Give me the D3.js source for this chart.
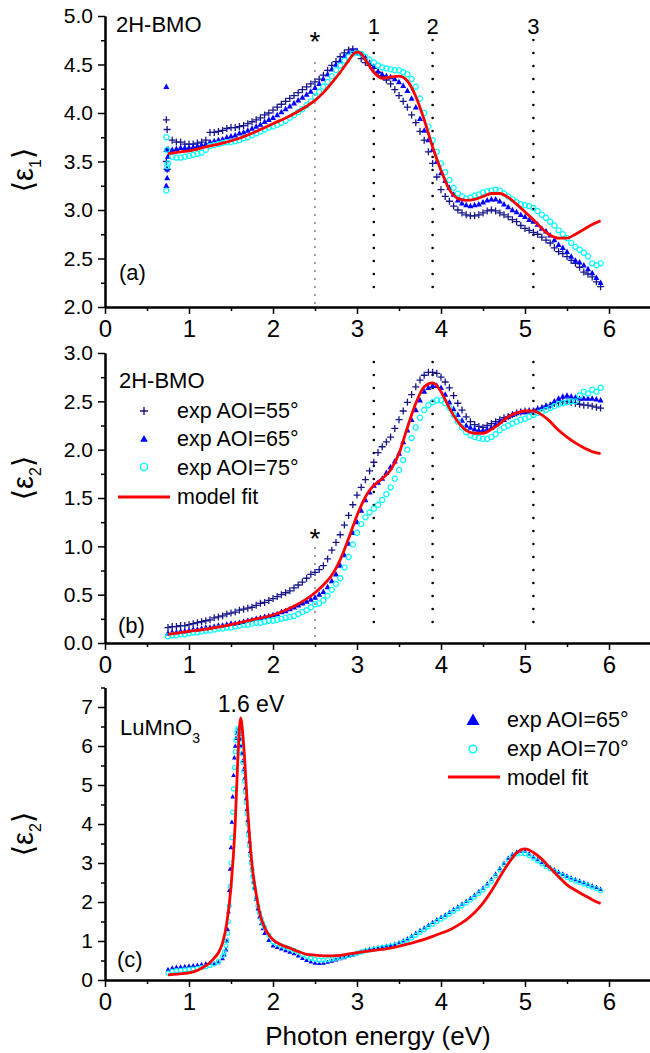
<!DOCTYPE html>
<html>
<head>
<meta charset="utf-8">
<script src="https://cdn.jsdelivr.net/npm/d3@7"></script>
<style>
  body { margin: 0; background: #fff; }
  text { font-family: "Liberation Sans", Arial, sans-serif; fill: #000; }
  .axis path.domain { stroke: #000; stroke-width: 2; }
  .axis line { stroke: #000; stroke-width: 1.5; }
  .xaxis text { font-size: 24px; font-family: "Liberation Sans", Arial, sans-serif; fill: #000; }
  .yaxis text { font-size: 21px; font-family: "Liberation Sans", Arial, sans-serif; fill: #000; }
</style>
</head>
<body>
<svg id="chart" width="650" height="1053"></svg>
<script>

// photon energy grid (eV) of the 2H-BMO spectra
var energyBMO = [
  0.75,0.80,0.85,0.90,0.95,1.00,1.05,1.10,1.15,1.20,
  1.25,1.30,1.35,1.40,1.45,1.50,1.55,1.60,1.65,1.70,
  1.75,1.80,1.85,1.90,1.95,2.00,2.05,2.10,2.15,2.20,
  2.25,2.30,2.35,2.40,2.45,2.50,2.55,2.60,2.65,2.70,
  2.75,2.80,2.85,2.90,2.95,3.00,3.05,3.10,3.15,3.20,
  3.25,3.30,3.35,3.40,3.45,3.50,3.55,3.60,3.65,3.70,
  3.75,3.80,3.85,3.90,3.95,4.00,4.05,4.10,4.15,4.20,
  4.25,4.30,4.35,4.40,4.45,4.50,4.55,4.60,4.65,4.70,
  4.75,4.80,4.85,4.90,4.95,5.00,5.05,5.10,5.15,5.20,
  5.25,5.30,5.35,5.40,5.45,5.50,5.55,5.60,5.65,5.70,
  5.75,5.80,5.85,5.90];

// (a) <eps1>, 2H-BMO
var eps1_55 = [
  3.62,3.72,3.70,3.70,3.68,3.68,3.68,3.69,3.70,3.72,
  3.80,3.80,3.81,3.82,3.84,3.85,3.85,3.86,3.87,3.89,
  3.91,3.93,3.95,3.98,4.00,4.03,4.06,4.09,4.12,4.15,
  4.18,4.21,4.24,4.27,4.30,4.32,4.35,4.39,4.44,4.49,
  4.53,4.58,4.62,4.65,4.66,4.63,4.56,4.52,4.49,4.46,
  4.42,4.38,4.34,4.30,4.24,4.18,4.12,4.06,3.98,3.90,
  3.81,3.72,3.60,3.48,3.34,3.21,3.14,3.09,3.04,3.00,
  2.97,2.95,2.94,2.94,2.95,2.97,2.99,3.00,2.99,2.97,
  2.95,2.93,2.90,2.88,2.84,2.81,2.79,2.77,2.75,2.72,
  2.69,2.66,2.61,2.57,2.55,2.52,2.48,2.45,2.41,2.36,
  2.34,2.31,2.26,2.21];
var eps1_65 = [
  3.55,3.62,3.63,3.64,3.64,3.64,3.65,3.66,3.67,3.68,
  3.70,3.71,3.72,3.73,3.75,3.76,3.77,3.79,3.80,3.82,
  3.84,3.86,3.88,3.91,3.93,3.95,3.98,4.01,4.04,4.07,
  4.10,4.13,4.16,4.19,4.22,4.26,4.30,4.35,4.40,4.45,
  4.50,4.54,4.59,4.62,4.64,4.64,4.61,4.57,4.52,4.48,
  4.43,4.40,4.38,4.37,4.35,4.32,4.28,4.23,4.15,4.06,
  3.94,3.82,3.72,3.62,3.50,3.38,3.30,3.23,3.16,3.10,
  3.07,3.05,3.04,3.05,3.06,3.08,3.10,3.11,3.11,3.09,
  3.06,3.03,3.00,2.98,2.95,2.93,2.90,2.88,2.85,2.81,
  2.78,2.74,2.69,2.64,2.61,2.57,2.52,2.48,2.46,2.43,
  2.39,2.35,2.30,2.25];
var eps1_75 = [
  3.48,3.55,3.54,3.54,3.55,3.56,3.57,3.58,3.59,3.62,
  3.66,3.67,3.68,3.69,3.70,3.70,3.71,3.72,3.74,3.75,
  3.77,3.79,3.81,3.83,3.85,3.86,3.88,3.90,3.92,3.95,
  3.98,4.01,4.04,4.08,4.12,4.17,4.22,4.27,4.32,4.38,
  4.44,4.49,4.54,4.58,4.61,4.62,4.61,4.58,4.55,4.52,
  4.49,4.47,4.46,4.45,4.44,4.44,4.42,4.40,4.35,4.27,
  4.15,4.00,3.86,3.72,3.60,3.48,3.39,3.31,3.23,3.17,
  3.14,3.12,3.13,3.15,3.16,3.18,3.19,3.20,3.21,3.20,
  3.17,3.14,3.11,3.08,3.06,3.05,3.04,3.02,2.99,2.95,
  2.92,2.88,2.84,2.79,2.75,2.71,2.66,2.62,2.59,2.56,
  2.52,2.45,2.43,2.45];
// scattered first points near 0.73 eV
var start1_55 = [[0.73, 3.93], [0.74, 3.83], [0.73, 3.50], [0.74, 3.42]];
var start1_65 = [[0.73, 4.27], [0.73, 3.25], [0.74, 3.33], [0.74, 3.42], [0.73, 3.62]];
var start1_75 = [[0.73, 3.20], [0.73, 3.75], [0.74, 3.45], [0.74, 3.62]];

var fitE1 = [0.75,0.9,1.0,1.2,1.4,1.6,1.8,2.0,2.2,2.4,2.5,2.6,2.7,2.8,2.9,2.95,3.0,3.05,3.1,3.2,
  3.3,3.4,3.5,3.6,3.7,3.8,3.9,4.0,4.1,4.2,4.3,4.4,4.5,4.6,4.7,4.8,4.9,5.0,5.1,5.2,5.3,5.4,5.5,5.6,5.7,5.8,5.9];
var fitEps1 = [3.58,3.60,3.61,3.65,3.69,3.74,3.81,3.89,3.97,4.07,4.13,4.21,4.31,4.42,4.54,4.60,4.63,4.61,4.55,4.42,
  4.36,4.37,4.38,4.33,4.17,3.93,3.65,3.41,3.21,3.12,3.10,3.11,3.14,3.17,3.17,3.13,3.06,2.98,2.90,2.81,2.74,2.71,2.71,2.75,2.80,2.85,2.89];

// (b) <eps2>, 2H-BMO
var eps2_55 = [
  0.16,0.17,0.17,0.18,0.18,0.19,0.20,0.21,0.22,0.23,
  0.24,0.26,0.27,0.28,0.30,0.31,0.32,0.34,0.35,0.36,
  0.37,0.39,0.41,0.42,0.44,0.46,0.48,0.50,0.52,0.54,
  0.57,0.60,0.63,0.67,0.71,0.73,0.76,0.80,0.87,0.96,
  1.04,1.12,1.22,1.32,1.43,1.53,1.61,1.69,1.78,1.87,
  1.97,2.03,2.08,2.13,2.22,2.31,2.40,2.49,2.57,2.65,
  2.72,2.77,2.80,2.80,2.79,2.75,2.70,2.64,2.56,2.48,
  2.41,2.34,2.29,2.26,2.24,2.23,2.25,2.27,2.29,2.31,
  2.33,2.34,2.36,2.38,2.39,2.40,2.40,2.40,2.42,2.43,
  2.45,2.46,2.48,2.49,2.50,2.50,2.49,2.48,2.47,2.46,
  2.46,2.45,2.44,2.43];
var eps2_65 = [
  0.10,0.11,0.11,0.12,0.12,0.13,0.14,0.14,0.15,0.16,
  0.16,0.17,0.18,0.18,0.19,0.20,0.20,0.21,0.22,0.23,
  0.24,0.25,0.26,0.27,0.28,0.29,0.30,0.32,0.33,0.35,
  0.37,0.39,0.41,0.43,0.45,0.47,0.50,0.53,0.58,0.64,
  0.71,0.80,0.91,1.03,1.14,1.25,1.37,1.48,1.56,1.63,
  1.66,1.70,1.76,1.82,1.88,1.96,2.08,2.20,2.31,2.41,
  2.51,2.60,2.64,2.66,2.66,2.64,2.57,2.49,2.42,2.36,
  2.30,2.25,2.23,2.21,2.20,2.20,2.21,2.23,2.26,2.29,
  2.31,2.34,2.36,2.38,2.39,2.39,2.40,2.40,2.42,2.43,
  2.45,2.46,2.50,2.53,2.55,2.56,2.55,2.54,2.53,2.53,
  2.53,2.53,2.52,2.51];
var eps2_75 = [
  0.07,0.08,0.08,0.09,0.09,0.10,0.11,0.11,0.12,0.13,
  0.13,0.14,0.15,0.15,0.16,0.16,0.17,0.18,0.19,0.19,
  0.20,0.21,0.21,0.22,0.23,0.23,0.24,0.25,0.26,0.27,
  0.28,0.30,0.32,0.34,0.37,0.40,0.41,0.44,0.49,0.55,
  0.61,0.67,0.78,0.89,1.02,1.14,1.23,1.30,1.35,1.39,
  1.43,1.48,1.54,1.61,1.70,1.79,1.89,2.00,2.12,2.23,
  2.33,2.41,2.46,2.49,2.51,2.51,2.48,2.43,2.36,2.29,
  2.23,2.18,2.15,2.13,2.12,2.11,2.11,2.13,2.16,2.20,
  2.23,2.25,2.27,2.29,2.31,2.32,2.34,2.36,2.38,2.39,
  2.41,2.43,2.45,2.47,2.48,2.49,2.50,2.50,2.56,2.60,
  2.58,2.62,2.60,2.64];

var fitE2 = [0.75,1.0,1.25,1.5,1.75,2.0,2.25,2.5,2.6,2.7,2.8,2.9,3.0,3.1,3.15,3.2,3.3,3.4,3.5,3.6,
  3.7,3.8,3.9,4.0,4.1,4.2,4.3,4.4,4.5,4.6,4.7,4.8,4.9,5.0,5.1,5.2,5.3,5.4,5.5,5.6,5.7,5.8,5.9];
var fitEps2 = [0.09,0.12,0.15,0.19,0.24,0.29,0.38,0.52,0.60,0.70,0.86,1.08,1.32,1.51,1.58,1.63,1.70,1.79,1.96,2.23,
  2.48,2.65,2.69,2.60,2.43,2.29,2.20,2.17,2.17,2.21,2.27,2.34,2.38,2.40,2.40,2.36,2.29,2.20,2.13,2.07,2.02,1.98,1.96];

// (c) <eps2>, LuMnO3
var energyLMO = [
  0.75,0.80,0.85,0.90,0.95,1.00,1.05,1.10,1.15,1.20,1.25,1.30,1.35,1.40,1.42,
  1.44,1.45,1.46,1.47,1.48,1.49,1.50,1.51,1.52,1.53,1.54,1.55,1.56,1.57,1.58,1.59,1.60,1.61,
  1.62,1.63,1.64,1.65,1.66,1.67,1.68,1.69,1.70,1.71,1.72,1.73,1.74,1.75,1.76,1.77,1.78,
  1.80,1.82,1.84,1.86,1.88,1.90,
  1.95,2.00,2.05,2.10,2.15,2.20,2.25,2.30,2.35,2.40,
  2.45,2.50,2.55,2.60,2.65,2.70,2.75,2.80,2.85,2.90,
  2.95,3.00,3.05,3.10,3.15,3.20,3.25,3.30,3.35,3.40,
  3.45,3.50,3.55,3.60,3.65,3.70,3.75,3.80,3.85,3.90,
  3.95,4.00,4.05,4.10,4.15,4.20,4.25,4.30,4.35,4.40,
  4.45,4.50,4.55,4.60,4.65,4.70,4.75,4.80,4.85,4.90,
  4.95,5.00,5.05,5.10,5.15,5.20,5.25,5.30,5.35,5.40,
  5.45,5.50,5.55,5.60,5.65,5.70,5.75,5.80,5.85,5.90];
var lmo_65 = [
  0.27,0.31,0.33,0.34,0.35,0.36,0.37,0.38,0.40,0.42,0.44,0.42,0.45,0.55,0.65,
  0.78,1.00,1.30,1.75,2.30,2.85,3.40,4.05,4.70,5.25,5.70,6.00,6.20,6.33,6.40,6.38,6.30,6.17,
  6.00,5.82,5.62,5.40,5.17,4.92,4.65,4.38,4.10,3.82,3.55,3.30,3.08,2.88,2.70,2.52,2.36,
  2.08,1.83,1.62,1.45,1.32,1.20,
  1.02,0.88,0.84,0.80,0.76,0.72,0.68,0.62,0.56,0.51,
  0.47,0.44,0.43,0.44,0.46,0.49,0.52,0.55,0.58,0.61,
  0.64,0.68,0.72,0.76,0.79,0.81,0.83,0.85,0.87,0.89,
  0.92,0.96,1.01,1.06,1.13,1.20,1.27,1.34,1.41,1.48,
  1.55,1.61,1.67,1.74,1.81,1.88,1.95,2.02,2.10,2.18,
  2.27,2.36,2.47,2.59,2.72,2.86,3.00,3.13,3.22,3.28,
  3.31,3.30,3.24,3.16,3.09,3.02,2.95,2.89,2.83,2.77,
  2.72,2.67,2.62,2.58,2.54,2.50,2.46,2.42,2.38,2.33];
var lmo_70 = [
  0.18,0.22,0.24,0.25,0.26,0.27,0.28,0.30,0.32,0.34,0.37,0.41,0.47,0.62,0.72,
  0.88,1.02,1.20,1.50,1.90,2.40,3.00,3.65,4.30,4.90,5.45,5.85,6.15,6.35,6.45,6.42,6.33,6.18,
  6.00,5.80,5.58,5.35,5.10,4.83,4.55,4.27,4.00,3.72,3.45,3.20,3.00,2.82,2.65,2.50,2.35,
  2.10,1.90,1.72,1.57,1.45,1.35,
  1.15,0.97,0.92,0.88,0.84,0.80,0.76,0.71,0.65,0.60,
  0.56,0.53,0.51,0.51,0.52,0.54,0.56,0.58,0.61,0.63,
  0.66,0.69,0.72,0.75,0.77,0.79,0.81,0.83,0.85,0.87,
  0.89,0.93,0.97,1.02,1.08,1.15,1.22,1.29,1.36,1.43,
  1.50,1.56,1.62,1.69,1.76,1.83,1.90,1.97,2.05,2.13,
  2.22,2.31,2.42,2.53,2.67,2.82,2.96,3.09,3.18,3.23,
  3.25,3.24,3.19,3.12,3.05,2.98,2.91,2.85,2.79,2.73,
  2.68,2.63,2.58,2.54,2.50,2.46,2.42,2.38,2.34,2.29];

var fitELMO = [0.75,0.85,0.95,1.05,1.15,1.25,1.30,1.35,1.40,1.45,1.50,1.55,1.58,1.615,1.65,1.70,1.75,1.80,1.85,1.90,
  1.95,2.00,2.10,2.20,2.30,2.40,2.50,2.60,2.70,2.80,2.90,3.00,3.20,3.40,3.60,3.80,3.90,4.00,4.10,4.20,
  4.30,4.40,4.50,4.60,4.70,4.80,4.90,5.00,5.10,5.20,5.30,5.40,5.50,5.60,5.70,5.80,5.90];
var fitLMO = [0.13,0.15,0.17,0.21,0.30,0.45,0.56,0.70,0.95,1.46,2.38,4.00,5.60,6.72,6.05,4.30,2.95,2.20,1.65,1.35,
  1.16,1.03,0.90,0.82,0.73,0.66,0.64,0.62,0.62,0.63,0.67,0.70,0.76,0.82,0.92,1.04,1.12,1.20,1.28,1.40,
  1.54,1.73,1.97,2.28,2.64,2.98,3.26,3.36,3.27,3.10,2.87,2.65,2.44,2.30,2.18,2.06,1.96];

// ticks and marker lines
var xTicks = [0, 1, 2, 3, 4, 5, 6];
var xMinor = [0.5, 1.5, 2.5, 3.5, 4.5, 5.5];
var ticksA = [2.0, 2.5, 3.0, 3.5, 4.0, 4.5, 5.0];
var minorA = [2.25, 2.75, 3.25, 3.75, 4.25, 4.75];
var ticksB = [0.0, 0.5, 1.0, 1.5, 2.0, 2.5, 3.0];
var minorB = [0.25, 0.75, 1.25, 1.75, 2.25, 2.75];
var ticksC = [0, 1, 2, 3, 4, 5, 6, 7];
var minorC = [0.5, 1.5, 2.5, 3.5, 4.5, 5.5, 6.5, 7.5];
var peakLines = [3.2, 3.9, 5.1];
var peakNames = ["1", "2", "3"];
var starLine = 2.5;

var NAVY = "#16168a", BLUE = "#0000ff", CYAN = "#00ffff", RED = "#ff0000";

var svg = d3.select("#chart");

var x = d3.scaleLinear().domain([0, 6.5]).range([105, 651]);
var yA = d3.scaleLinear().domain([2, 5]).range([307, 16]);
var yB = d3.scaleLinear().domain([0, 3]).range([643, 353]);
var yC = d3.scaleLinear().domain([0, 7.5]).range([980, 687.5]);

function axes(y, major, minor, fmt) {
  var base = y.range()[0];
  svg.append("g").attr("class", "axis").attr("transform", "translate(0," + base + ")")
    .call(d3.axisBottom(x).tickValues(xMinor).tickSize(4).tickSizeOuter(0).tickFormat(""));
  svg.append("g").attr("class", "axis xaxis").attr("transform", "translate(0," + base + ")")
    .call(d3.axisBottom(x).tickValues(xTicks).tickSize(7).tickSizeOuter(0).tickPadding(6).tickFormat(d3.format("d")));
  svg.append("g").attr("class", "axis").attr("transform", "translate(105,0)")
    .call(d3.axisLeft(y).tickValues(minor).tickSize(4).tickSizeOuter(0).tickFormat(""));
  svg.append("g").attr("class", "axis yaxis").attr("transform", "translate(105,0)")
    .call(d3.axisLeft(y).tickValues(major).tickSize(7).tickSizeOuter(0).tickPadding(5).tickFormat(fmt));
}

// marker shapes
var shapes = {
  plus: { d: "M-3.5,0H3.5M0,-3.5V3.5", fill: "none", stroke: NAVY, sw: 1.3 },
  tri: { d: "M0,-3.3L3,2.2L-3,2.2Z", fill: BLUE, stroke: "none", sw: 0 },
  triS: { d: "M0,-2.6L2.4,1.8L-2.4,1.8Z", fill: BLUE, stroke: "none", sw: 0 },
  circ: { d: "M2.6,0A2.6,2.6 0 1,1 -2.6,0A2.6,2.6 0 1,1 2.6,0Z", fill: "none", stroke: CYAN, sw: 1.2 },
  circS: { d: "M2,0A2,2 0 1,1 -2,0A2,2 0 1,1 2,0Z", fill: "none", stroke: CYAN, sw: 1.1 }
};

function marks(pts, y, shape) {
  var s = shapes[shape];
  svg.append("g").selectAll("path").data(pts).join("path")
    .attr("transform", function(d) { return "translate(" + x(d[0]) + "," + y(d[1]) + ")"; })
    .attr("d", s.d)
    .attr("fill", s.fill)
    .attr("stroke", s.stroke)
    .attr("stroke-width", s.sw);
}

function fitLine(E, V, y) {
  svg.append("path").datum(d3.zip(E, V))
    .attr("d", d3.line().x(function(d) { return x(d[0]); }).y(function(d) { return y(d[1]); }).curve(d3.curveMonotoneX))
    .attr("fill", "none").attr("stroke", RED).attr("stroke-width", 2.8);
}

function vline(e, y0, y1, w, gap) {
  svg.append("line")
    .attr("x1", x(e)).attr("x2", x(e)).attr("y1", y0).attr("y2", y1)
    .attr("stroke", "#000").attr("stroke-width", w)
    .attr("stroke-linecap", "round").attr("stroke-dasharray", "0," + gap);
}

function label(txt, px, py, size, anchor) {
  return svg.append("text").attr("x", px).attr("y", py)
    .attr("font-size", size).attr("text-anchor", anchor || "start").text(txt);
}

function ylabel(cx, cy, sub) {
  var t = svg.append("text")
    .attr("transform", "translate(" + cx + "," + cy + ") rotate(-90)")
    .attr("text-anchor", "middle")
    .attr("font-size", 29)
    .style("font-family", "'Liberation Sans', 'DejaVu Sans', sans-serif");
  t.append("tspan").text("\u27e8\u03b5");
  t.append("tspan").attr("font-size", 16).attr("dy", 8).text(sub);
  t.append("tspan").attr("dy", -8).text("\u27e9");
}

// ---------- panel (a) ----------
axes(yA, ticksA, minorA, d3.format(".1f"));
vline(starLine, 63, 306, 1.4, 8);
peakLines.forEach(function(e) { vline(e, 40, 300, 2.6, 13); });
marks(d3.zip(energyBMO, eps1_55).concat(start1_55), yA, "plus");
marks(d3.zip(energyBMO, eps1_65).concat(start1_65), yA, "tri");
marks(d3.zip(energyBMO, eps1_75).concat(start1_75), yA, "circ");
fitLine(fitE1, fitEps1, yA);
label("2H-BMO", 116, 32, 22);
label("(a)", 119, 280, 22);
label("*", x(starLine), 51, 28, "middle");
peakLines.forEach(function(e, i) { label(peakNames[i], x(e), 34, 22, "middle"); });
ylabel(33, 170, "1");

// ---------- panel (b) ----------
axes(yB, ticksB, minorB, d3.format(".1f"));
vline(starLine, 548, 642, 1.4, 8);
peakLines.forEach(function(e) { vline(e, 362, 633, 2.6, 13); });
marks(d3.zip(energyBMO, eps2_55), yB, "plus");
marks(d3.zip(energyBMO, eps2_65), yB, "tri");
marks(d3.zip(energyBMO, eps2_75), yB, "circ");
fitLine(fitE2, fitEps2, yB);
label("2H-BMO", 119, 388, 22);
label("(b)", 118, 633, 22);
label("*", x(starLine), 548, 28, "middle");
ylabel(33, 478, "2");

// legend (b)
var legB = svg.append("g");
legB.append("path").attr("transform", "translate(144,411)").attr("d", "M-4,0H4M0,-4V4")
  .attr("stroke", NAVY).attr("stroke-width", 1.4).attr("fill", "none");
legB.append("path").attr("transform", "translate(144,439)").attr("d", "M0,-4L3.8,2.8L-3.8,2.8Z").attr("fill", BLUE);
legB.append("circle").attr("cx", 144).attr("cy", 467).attr("r", 3.6)
  .attr("fill", "none").attr("stroke", CYAN).attr("stroke-width", 1.4);
legB.append("line").attr("x1", 118).attr("x2", 170).attr("y1", 497).attr("y2", 497)
  .attr("stroke", RED).attr("stroke-width", 2.8);
label("exp AOI=55\u00b0", 177, 418, 21.5);
label("exp AOI=65\u00b0", 177, 446, 21.5);
label("exp AOI=75\u00b0", 177, 475, 21.5);
label("model fit", 177, 504, 21.5);

// ---------- panel (c) ----------
axes(yC, ticksC, minorC, d3.format("d"));
marks(d3.zip(energyLMO, lmo_65), yC, "triS");
marks(d3.zip(energyLMO, lmo_70), yC, "circS");
fitLine(fitELMO, fitLMO, yC);
var lu = label("LuMnO", 120, 735, 22);
lu.append("tspan").attr("font-size", 14).attr("dy", 8).text("3");
label("1.6 eV", 251, 712, 23, "middle");
label("(c)", 117, 967, 22);
ylabel(33, 834, "2");

// legend (c)
var legC = svg.append("g");
legC.append("path").attr("transform", "translate(473,720)").attr("d", "M0,-6.5L6.5,5L-6.5,5Z").attr("fill", BLUE);
legC.append("circle").attr("cx", 473).attr("cy", 749).attr("r", 3.8)
  .attr("fill", "none").attr("stroke", CYAN).attr("stroke-width", 1.5);
legC.append("line").attr("x1", 448).attr("x2", 500).attr("y1", 777).attr("y2", 777)
  .attr("stroke", RED).attr("stroke-width", 2.8);
label("exp AOI=65\u00b0", 507, 727, 21.5);
label("exp AOI=70\u00b0", 507, 756, 21.5);
label("model fit", 507, 785, 21.5);

// x title
label("Photon energy (eV)", 378, 1045, 26, "middle");

</script>
</body>
</html>
